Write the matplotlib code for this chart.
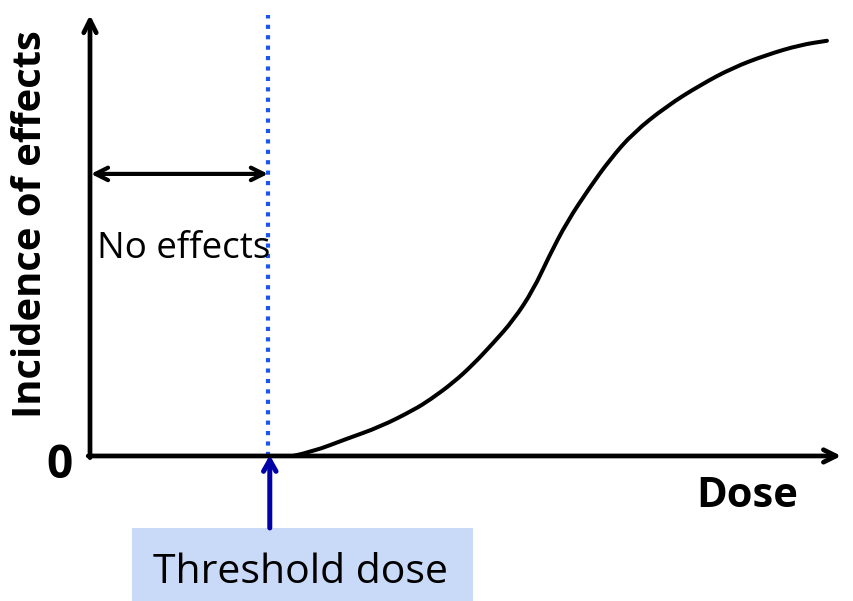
import matplotlib
matplotlib.use("Agg")
import matplotlib.pyplot as plt
from matplotlib.patches import Rectangle, PathPatch
from matplotlib.path import Path

# ---- data (dose in arbitrary units, incidence in % of maximum) ----
dose = [11.4, 12.5, 14.4, 16.3, 18.2, 19.1, 20.4, 21.5, 22.6, 23.8, 24.9,
        25.8, 26.8, 28.1, 29.2, 30.5, 32.4, 34.3, 36.1, 38.0, 39.9, 41.4]
incidence = [0.0, 1.0, 4.1, 7.0, 11.1, 13.5, 17.6, 21.9, 26.9, 32.7, 39.9,
             48.1, 56.3, 64.7, 71.2, 77.6, 84.1, 89.2, 93.3, 96.4, 98.8, 99.8]
threshold_dose = 10.0
x_label = "Dose"
y_label = "Incidence of effects"
zero_label = "0"
no_effect_label = "No effects"
threshold_label = "Threshold dose"

plt.rcParams['font.family'] = ['Open Sans', 'DejaVu Sans']

fig = plt.figure(figsize=(8.54, 6.01), dpi=100)
ax = fig.add_axes([0, 0, 1, 1])
ax.set_xlim(-5.056, 42.92)
ax.set_ylim(-34.86, 109.6)
ax.axis('off')

# axes with open arrowheads
ax.annotate("", xy=(42.2, 0), xytext=(-0.1, 0),
            arrowprops=dict(arrowstyle="->,head_length=0.9,head_width=0.45",
                            lw=3.4, color="black", shrinkA=0, shrinkB=0))
ax.annotate("", xy=(0, 106.0), xytext=(0, -0.4),
            arrowprops=dict(arrowstyle="->,head_length=0.9,head_width=0.45",
                            lw=3.4, color="black", shrinkA=0, shrinkB=0))

# dose-response curve, drawn as a smooth quadratic path through the readings
pts = list(zip(dose, incidence))
verts = [pts[0]]
codes = [Path.MOVETO]
for i in range(1, len(pts) - 1):
    mid = ((pts[i][0] + pts[i + 1][0]) / 2, (pts[i][1] + pts[i + 1][1]) / 2)
    verts += [pts[i], mid]
    codes += [Path.CURVE3, Path.CURVE3]
verts.append(pts[-1])
codes.append(Path.LINETO)
ax.add_patch(PathPatch(Path(verts, codes), facecolor="none", edgecolor="black",
                       lw=2.9, capstyle="round", transform=ax.transData))

# threshold dotted line
ax.plot([threshold_dose, threshold_dose], [0, 106.0], color="#1a55f2",
        lw=3.0, linestyle=(0, (1.0, 1.5)), dash_capstyle="butt")

# no effects double arrow
ax.annotate("", xy=(threshold_dose, 67.8), xytext=(0.05, 67.8),
            arrowprops=dict(arrowstyle="<->,head_length=0.9,head_width=0.45",
                            lw=3.0, color="black", shrinkA=0, shrinkB=0))
ax.text(0.39, 47.6, no_effect_label, fontsize=26.5, ha="left", va="baseline",
        color="black")

# threshold label box + arrow
ax.add_patch(Rectangle((2.36, -36.0), 19.16, 18.7, facecolor="#c9d9f8",
                       edgecolor="none", zorder=1))
ax.annotate("", xy=(threshold_dose + 0.1, 0.2), xytext=(threshold_dose + 0.1, -17.3),
            arrowprops=dict(arrowstyle="->,head_length=0.8,head_width=0.45",
                            lw=3.6, color="#0000a8", shrinkA=0, shrinkB=0))
ax.text(11.8, -30.5, threshold_label, fontsize=29.5, ha="center", va="baseline",
        color="black", zorder=2)

# axis labels
ax.text(-1.69, -2.2, zero_label, fontsize=33, fontweight="bold",
        ha="center", va="center")
ax.text(36.9, -9.8, x_label, fontsize=30, fontweight="bold",
        ha="center", va="center")
ax.text(-3.35, 55.8, y_label, fontsize=28.7, fontweight="bold",
        ha="center", va="center", rotation=90)

fig.savefig("out.png", dpi=100)
